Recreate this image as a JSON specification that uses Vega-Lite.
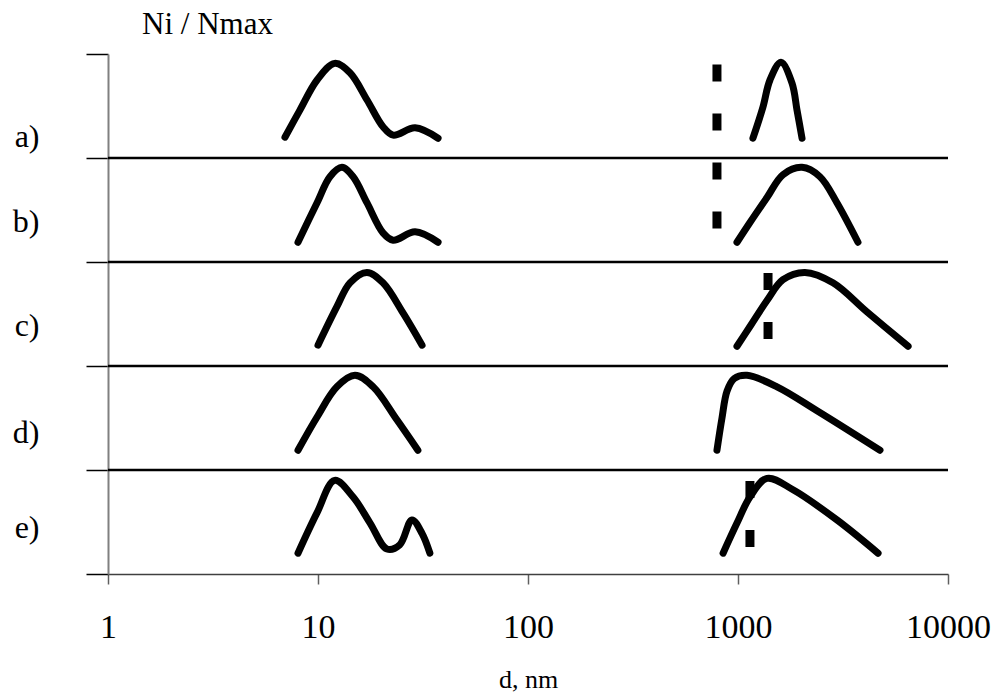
{
  "$schema": "https://vega.github.io/schema/vega-lite/v6.json",
  "width": 840,
  "height": 520,
  "autosize": "none",
  "padding": {"left": 108, "top": 54, "right": 50, "bottom": 121},
  "background": "white",
  "config": {"view": {"stroke": null}},
  "datasets": {
    "curves": [
      {"s": "a1", "p": "a", "d": 6.96, "v": 0.20},
      {"s": "a1", "p": "a", "d": 8.2, "v": 0.46},
      {"s": "a1", "p": "a", "d": 9.9, "v": 0.75},
      {"s": "a1", "p": "a", "d": 12.0, "v": 0.91},
      {"s": "a1", "p": "a", "d": 14.2, "v": 0.82},
      {"s": "a1", "p": "a", "d": 17.1, "v": 0.56},
      {"s": "a1", "p": "a", "d": 20.4, "v": 0.30},
      {"s": "a1", "p": "a", "d": 22.8, "v": 0.22},
      {"s": "a1", "p": "a", "d": 29.0, "v": 0.29},
      {"s": "a1", "p": "a", "d": 37.3, "v": 0.19},
      {"s": "a2", "p": "a", "d": 1178, "v": 0.19},
      {"s": "a2", "p": "a", "d": 1315, "v": 0.49},
      {"s": "a2", "p": "a", "d": 1420, "v": 0.75},
      {"s": "a2", "p": "a", "d": 1602, "v": 0.92},
      {"s": "a2", "p": "a", "d": 1808, "v": 0.72},
      {"s": "a2", "p": "a", "d": 1910, "v": 0.46},
      {"s": "a2", "p": "a", "d": 2018, "v": 0.19},
      {"s": "b1", "p": "b", "d": 8.03, "v": 0.19},
      {"s": "b1", "p": "b", "d": 9.9, "v": 0.57},
      {"s": "b1", "p": "b", "d": 11.4, "v": 0.82},
      {"s": "b1", "p": "b", "d": 13.0, "v": 0.91},
      {"s": "b1", "p": "b", "d": 14.7, "v": 0.82},
      {"s": "b1", "p": "b", "d": 17.1, "v": 0.57},
      {"s": "b1", "p": "b", "d": 20.4, "v": 0.28},
      {"s": "b1", "p": "b", "d": 22.8, "v": 0.21},
      {"s": "b1", "p": "b", "d": 29.0, "v": 0.29},
      {"s": "b1", "p": "b", "d": 37.3, "v": 0.19},
      {"s": "b2", "p": "b", "d": 989, "v": 0.19},
      {"s": "b2", "p": "b", "d": 1140, "v": 0.38},
      {"s": "b2", "p": "b", "d": 1374, "v": 0.62},
      {"s": "b2", "p": "b", "d": 1637, "v": 0.84},
      {"s": "b2", "p": "b", "d": 2018, "v": 0.91},
      {"s": "b2", "p": "b", "d": 2456, "v": 0.82},
      {"s": "b2", "p": "b", "d": 2958, "v": 0.57},
      {"s": "b2", "p": "b", "d": 3727, "v": 0.19},
      {"s": "c1", "p": "c", "d": 10.0, "v": 0.20},
      {"s": "c1", "p": "c", "d": 12.3, "v": 0.57},
      {"s": "c1", "p": "c", "d": 14.2, "v": 0.80},
      {"s": "c1", "p": "c", "d": 17.1, "v": 0.90},
      {"s": "c1", "p": "c", "d": 20.4, "v": 0.80},
      {"s": "c1", "p": "c", "d": 25.4, "v": 0.51},
      {"s": "c1", "p": "c", "d": 31.3, "v": 0.20},
      {"s": "c2", "p": "c", "d": 989, "v": 0.19},
      {"s": "c2", "p": "c", "d": 1140, "v": 0.38},
      {"s": "c2", "p": "c", "d": 1374, "v": 0.63},
      {"s": "c2", "p": "c", "d": 1637, "v": 0.83},
      {"s": "c2", "p": "c", "d": 2084, "v": 0.90},
      {"s": "c2", "p": "c", "d": 2833, "v": 0.80},
      {"s": "c2", "p": "c", "d": 4113, "v": 0.52},
      {"s": "c2", "p": "c", "d": 6457, "v": 0.19},
      {"s": "d1", "p": "d", "d": 8.03, "v": 0.19},
      {"s": "d1", "p": "d", "d": 9.9, "v": 0.51},
      {"s": "d1", "p": "d", "d": 12.3, "v": 0.80},
      {"s": "d1", "p": "d", "d": 15.0, "v": 0.91},
      {"s": "d1", "p": "d", "d": 18.3, "v": 0.80},
      {"s": "d1", "p": "d", "d": 23.8, "v": 0.48},
      {"s": "d1", "p": "d", "d": 29.9, "v": 0.19},
      {"s": "d2", "p": "d", "d": 794, "v": 0.19},
      {"s": "d2", "p": "d", "d": 839, "v": 0.50},
      {"s": "d2", "p": "d", "d": 887, "v": 0.76},
      {"s": "d2", "p": "d", "d": 960, "v": 0.88},
      {"s": "d2", "p": "d", "d": 1104, "v": 0.91},
      {"s": "d2", "p": "d", "d": 1534, "v": 0.80},
      {"s": "d2", "p": "d", "d": 2378, "v": 0.57},
      {"s": "d2", "p": "d", "d": 4744, "v": 0.19},
      {"s": "e1", "p": "e", "d": 8.03, "v": 0.20},
      {"s": "e1", "p": "e", "d": 9.9, "v": 0.59},
      {"s": "e1", "p": "e", "d": 12.0, "v": 0.90},
      {"s": "e1", "p": "e", "d": 14.7, "v": 0.74},
      {"s": "e1", "p": "e", "d": 17.7, "v": 0.49},
      {"s": "e1", "p": "e", "d": 21.3, "v": 0.24},
      {"s": "e1", "p": "e", "d": 24.5, "v": 0.28},
      {"s": "e1", "p": "e", "d": 28.0, "v": 0.52},
      {"s": "e1", "p": "e", "d": 31.3, "v": 0.39},
      {"s": "e1", "p": "e", "d": 34.1, "v": 0.20},
      {"s": "e2", "p": "e", "d": 849, "v": 0.20},
      {"s": "e2", "p": "e", "d": 989, "v": 0.49},
      {"s": "e2", "p": "e", "d": 1140, "v": 0.74},
      {"s": "e2", "p": "e", "d": 1374, "v": 0.92},
      {"s": "e2", "p": "e", "d": 1828, "v": 0.81},
      {"s": "e2", "p": "e", "d": 2958, "v": 0.52},
      {"s": "e2", "p": "e", "d": 4645, "v": 0.20}
    ],
    "dashes": [
      {"d": 794, "y1": 4.90, "y2": 3.26},
      {"d": 1390, "y1": 2.894, "y2": 2.26},
      {"d": 1140, "y1": 0.894, "y2": 0.26}
    ],
    "separators": [{"y": 1}, {"y": 2}, {"y": 3}, {"y": 4}]
  },
  "layer": [
    {
      "data": {"name": "separators"},
      "mark": {"type": "rule", "color": "black", "strokeWidth": 2.5},
      "encoding": {
        "y": {"field": "y", "type": "quantitative"}
      }
    },
    {
      "data": {"name": "curves"},
      "transform": [
        {"calculate": "indexof(['e','d','c','b','a'], datum.p) + datum.v", "as": "y"}
      ],
      "mark": {"type": "line", "color": "black", "strokeWidth": 7, "strokeCap": "round", "strokeJoin": "round", "interpolate": "catmull-rom"},
      "encoding": {
        "x": {
          "field": "d", "type": "quantitative",
          "scale": {"type": "log", "domain": [1, 10000]},
          "axis": {
            "values": [1, 10, 100, 1000, 10000],
            "format": "d",
            "grid": false,
            "domainColor": "#404040",
            "domainWidth": 1.5,
            "tickColor": "#606060",
            "tickWidth": 1.5,
            "tickSize": 10,
            "labelFont": "Liberation Serif",
            "labelFontSize": 34,
            "labelColor": "black",
            "labelPadding": 26,
            "labelFlush": false,
            "labelOverlap": false,
            "title": "d, nm",
            "titleFont": "Liberation Serif",
            "titleFontSize": 26,
            "titleFontWeight": "normal",
            "titleColor": "black",
            "titleBaseline": "alphabetic",
            "titleAlign": "center",
            "titleX": 420,
            "titleY": 113
          }
        },
        "y": {
          "field": "y", "type": "quantitative",
          "scale": {"domain": [0, 5], "nice": false, "zero": false},
          "axis": {
            "values": [0, 0.45, 1, 1.36, 2, 2.39, 3, 3.39, 4, 4.21, 5],
            "grid": false,
            "domainColor": "#808080",
            "domainWidth": 2,
            "tickColor": "black",
            "tickWidth": 1.5,
            "tickSize": 22,
            "tickOpacity": {"condition": {"test": "datum.value % 1 != 0", "value": 0}, "value": 1},
            "labelExpr": "datum.value > 4 && datum.value < 5 ? 'a)' : datum.value > 3 && datum.value < 4 ? 'b)' : datum.value > 2 && datum.value < 3 ? 'c)' : datum.value > 1 && datum.value < 2 ? 'd)' : datum.value > 0 && datum.value < 1 ? 'e)' : ''",
            "labelFont": "Liberation Serif",
            "labelFontSize": 32,
            "labelColor": "black",
            "labelBaseline": "middle",
            "labelAlign": "right",
            "labelPadding": 47,
            "labelFlush": false,
            "labelOverlap": false,
            "title": "Ni / Nmax",
            "titleFont": "Liberation Serif",
            "titleFontSize": 31,
            "titleFontWeight": "normal",
            "titleColor": "black",
            "titleAngle": 0,
            "titleBaseline": "alphabetic",
            "titleAlign": "center",
            "titleX": 99,
            "titleY": -21
          }
        },
        "detail": {"field": "s", "type": "nominal"}
      }
    },
    {
      "data": {"name": "dashes"},
      "mark": {"type": "rule", "color": "black", "strokeWidth": 9, "strokeDash": [17, 32], "strokeCap": "butt"},
      "encoding": {
        "x": {"field": "d", "type": "quantitative"},
        "y": {"field": "y1", "type": "quantitative"},
        "y2": {"field": "y2"}
      }
    }
  ]
}
